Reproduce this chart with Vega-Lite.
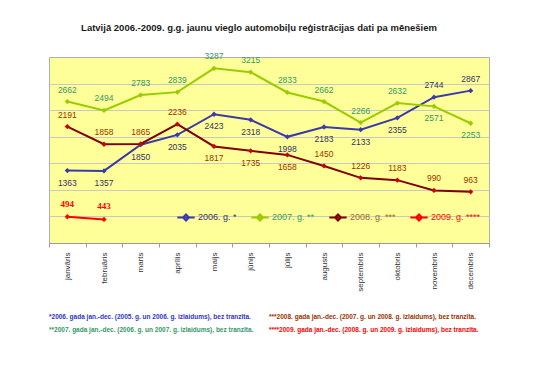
{
  "$schema": "https://vega.github.io/schema/vega-lite/v6.json",
  "background": "white",
  "padding": {"left": 44, "top": 22, "right": 10, "bottom": 5},
  "datasets": {
    "reg": [
      {"month": "janvāris", "series": "2006. g. *", "value": 1363, "pos": "below"},
      {"month": "februāris", "series": "2006. g. *", "value": 1357, "pos": "below"},
      {"month": "marts", "series": "2006. g. *", "value": 1850, "pos": "below"},
      {"month": "aprīlis", "series": "2006. g. *", "value": 2035, "pos": "below"},
      {"month": "maijs", "series": "2006. g. *", "value": 2423, "pos": "below"},
      {"month": "jūnijs", "series": "2006. g. *", "value": 2318, "pos": "below"},
      {"month": "jūlijs", "series": "2006. g. *", "value": 1998, "pos": "below"},
      {"month": "augusts", "series": "2006. g. *", "value": 2183, "pos": "below"},
      {"month": "septembris", "series": "2006. g. *", "value": 2133, "pos": "below"},
      {"month": "oktobris", "series": "2006. g. *", "value": 2355, "pos": "below"},
      {"month": "novembris", "series": "2006. g. *", "value": 2744, "pos": "above"},
      {"month": "decembris", "series": "2006. g. *", "value": 2867, "pos": "above"},
      {"month": "janvāris", "series": "2007. g. **", "value": 2662, "pos": "above"},
      {"month": "februāris", "series": "2007. g. **", "value": 2494, "pos": "above"},
      {"month": "marts", "series": "2007. g. **", "value": 2783, "pos": "above"},
      {"month": "aprīlis", "series": "2007. g. **", "value": 2839, "pos": "above"},
      {"month": "maijs", "series": "2007. g. **", "value": 3287, "pos": "above"},
      {"month": "jūnijs", "series": "2007. g. **", "value": 3215, "pos": "above"},
      {"month": "jūlijs", "series": "2007. g. **", "value": 2833, "pos": "above"},
      {"month": "augusts", "series": "2007. g. **", "value": 2662, "pos": "above"},
      {"month": "septembris", "series": "2007. g. **", "value": 2266, "pos": "above"},
      {"month": "oktobris", "series": "2007. g. **", "value": 2632, "pos": "above"},
      {"month": "novembris", "series": "2007. g. **", "value": 2571, "pos": "below"},
      {"month": "decembris", "series": "2007. g. **", "value": 2253, "pos": "below"},
      {"month": "janvāris", "series": "2008. g. ***", "value": 2191, "pos": "above"},
      {"month": "februāris", "series": "2008. g. ***", "value": 1858, "pos": "above"},
      {"month": "marts", "series": "2008. g. ***", "value": 1865, "pos": "above"},
      {"month": "aprīlis", "series": "2008. g. ***", "value": 2236, "pos": "above"},
      {"month": "maijs", "series": "2008. g. ***", "value": 1817, "pos": "below"},
      {"month": "jūnijs", "series": "2008. g. ***", "value": 1735, "pos": "below"},
      {"month": "jūlijs", "series": "2008. g. ***", "value": 1658, "pos": "below"},
      {"month": "augusts", "series": "2008. g. ***", "value": 1450, "pos": "above"},
      {"month": "septembris", "series": "2008. g. ***", "value": 1226, "pos": "above"},
      {"month": "oktobris", "series": "2008. g. ***", "value": 1183, "pos": "above"},
      {"month": "novembris", "series": "2008. g. ***", "value": 990, "pos": "above"},
      {"month": "decembris", "series": "2008. g. ***", "value": 963, "pos": "above"},
      {"month": "janvāris", "series": "2009. g. ****", "value": 494, "pos": "above"},
      {"month": "februāris", "series": "2009. g. ****", "value": 443, "pos": "above"}
    ],
    "notes": [
      {"line": "1", "col": "1", "kind": "n2006", "text": "*2006. gada jan.-dec. (2005. g. un 2006. g. izlaidums), bez tranzīta."},
      {"line": "1", "col": "2", "kind": "n2008", "text": "***2008. gada jan.-dec. (2007. g. un 2008. g. izlaidums), bez tranzīta."},
      {"line": "2", "col": "1", "kind": "n2007", "text": "**2007. gada jan.-dec. (2006. g. un 2007. g. izlaidums), bez tranzīta."},
      {"line": "2", "col": "2", "kind": "n2009", "text": "****2009. gada jan.-dec. (2008. g. un 2009. g. izlaidums), bez tranzīta."}
    ]
  },
  "spacing": 18,
  "resolve": {"scale": {"color": "independent", "x": "independent", "y": "independent"}, "legend": {"color": "independent"}},
  "vconcat": [
    {
      "width": 440,
      "height": 186,
      "title": {"text": "Latvijā 2006.-2009. g.g. jaunu vieglo automobiļu reģistrācijas dati pa mēnešiem", "font": "Liberation Sans", "fontSize": 9.5, "fontWeight": "bold", "color": "#1a1a1a", "offset": 20, "dx": -10, "anchor": "middle"},
      "data": {"name": "reg"},
      "encoding": {
        "x": {
          "field": "month", "type": "ordinal",
          "sort": ["janvāris", "februāris", "marts", "aprīlis", "maijs", "jūnijs", "jūlijs", "augusts", "septembris", "oktobris", "novembris", "decembris"],
          "scale": {"type": "band", "paddingInner": 0, "paddingOuter": 0},
          "bandPosition": 0.5,
          "axis": {"title": null, "labelAngle": -90, "labelFont": "Liberation Sans", "labelFontSize": 8, "labelColor": "#333333", "tickBand": "extent", "tickColor": "#999999", "tickSize": 4, "domainColor": "#999999", "labelPadding": 5, "grid": false}
        },
        "y": {
          "field": "value", "type": "quantitative",
          "scale": {"domain": [0, 3500], "nice": false},
          "axis": {"title": null, "labels": false, "ticks": false, "domain": false, "grid": true, "gridColor": "#C8C8C8", "values": [500, 1000, 1500, 2000, 2500, 3000]}
        }
      },
      "layer": [
        {
          "mark": {"type": "line", "strokeWidth": 2},
          "encoding": {
            "color": {
              "field": "series", "type": "nominal",
              "scale": {"domain": ["2006. g. *", "2007. g. **", "2008. g. ***", "2009. g. ****"], "range": ["#3A3AAA", "#99CC00", "#800000", "#FF0000"]},
              "legend": {
                "title": null, "orient": "none", "direction": "horizontal", "legendX": 127, "legendY": 150,
                "symbolType": "M-1,0H1M0,-0.35L0.35,0L0,0.35L-0.35,0Z", "symbolSize": 300, "symbolStrokeWidth": 2,
                "labelFont": "Liberation Sans", "labelFontSize": 9, "labelOffset": 2, "columnPadding": 10,
                "encode": {"labels": {"update": {"fill": {"signal": "datum.value === '2006. g. *' ? '#333366' : datum.value === '2007. g. **' ? '#339966' : datum.value === '2008. g. ***' ? '#996633' : '#FF0000'"}}}}
              }
            }
          }
        },
        {
          "mark": {"type": "point", "shape": "diamond", "filled": true, "size": 28, "opacity": 1},
          "encoding": {
            "color": {
              "field": "series", "type": "nominal",
              "scale": {"domain": ["2006. g. *", "2007. g. **", "2008. g. ***", "2009. g. ****"], "range": ["#3A3AAA", "#99CC00", "#CC0000", "#FF0000"]},
              "legend": null
            }
          }
        },
        {
          "transform": [{"filter": "datum.pos === 'above' && datum.series !== '2009. g. ****'"}],
          "mark": {"type": "text", "dy": -12, "font": "Liberation Sans", "fontSize": 8.5, "baseline": "middle"},
          "encoding": {
            "text": {"field": "value", "type": "quantitative"},
            "color": {
              "field": "series", "type": "nominal",
              "scale": {"domain": ["2006. g. *", "2007. g. **", "2008. g. ***", "2009. g. ****"], "range": ["#333366", "#339966", "#993300", "#FF0000"]},
              "legend": null
            }
          }
        },
        {
          "transform": [{"filter": "datum.pos === 'below'"}],
          "mark": {"type": "text", "dy": 12, "font": "Liberation Sans", "fontSize": 8.5, "baseline": "middle"},
          "encoding": {
            "text": {"field": "value", "type": "quantitative"},
            "color": {
              "field": "series", "type": "nominal",
              "scale": {"domain": ["2006. g. *", "2007. g. **", "2008. g. ***", "2009. g. ****"], "range": ["#333366", "#339966", "#993300", "#FF0000"]},
              "legend": null
            }
          }
        },
        {
          "transform": [{"filter": "datum.series === '2009. g. ****'"}],
          "mark": {"type": "text", "dy": -13, "font": "Liberation Serif", "fontSize": 9, "fontWeight": "bold", "baseline": "middle", "color": "#FF0000"},
          "encoding": {
            "text": {"field": "value", "type": "quantitative"}
          }
        }
      ],
      "resolve": {"scale": {"color": "independent"}, "legend": {"color": "independent"}}
    },
    {
      "width": 440,
      "height": 26,
      "data": {"name": "notes"},
      "view": {"stroke": null, "fill": null},
      "mark": {"type": "text", "align": "left", "baseline": "middle", "font": "Liberation Sans", "fontSize": 6.5, "fontWeight": "bold"},
      "encoding": {
        "x": {"field": "col", "type": "nominal", "scale": {"type": "band", "domain": ["1", "2"], "paddingInner": 0, "paddingOuter": 0}, "bandPosition": 0, "axis": null},
        "y": {"field": "line", "type": "nominal", "scale": {"type": "point", "domain": ["1", "2"], "padding": 0.5}, "axis": null},
        "text": {"field": "text"},
        "color": {"field": "kind", "type": "nominal", "scale": {"domain": ["n2006", "n2007", "n2008", "n2009"], "range": ["#3333CC", "#339966", "#993300", "#FF0000"]}, "legend": null}
      }
    }
  ],
  "config": {
    "view": {"fill": "#FFFF99", "stroke": "#B0B0B0", "strokeWidth": 1},
    "legend": {"padding": 0}
  }
}
